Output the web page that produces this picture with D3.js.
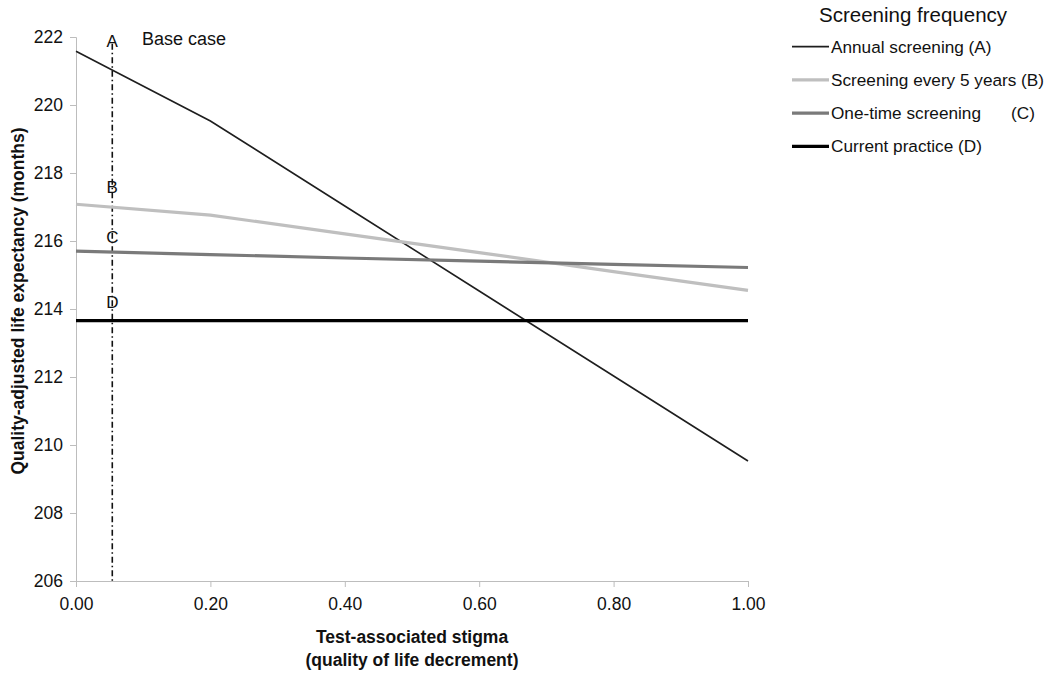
<!DOCTYPE html>
<html><head><meta charset="utf-8">
<script src="https://cdn.jsdelivr.net/npm/d3@7"></script>
<style>body{margin:0;background:#fff;}text{font-family:"Liberation Sans",Arial,sans-serif;}</style>
</head><body><svg id="c" width="1050" height="675"></svg>
<script>
const stigma = [0, 0.2, 0.4, 0.6, 0.8, 1.0];
const annual = [221.58, 219.53, 217.03, 214.53, 212.03, 209.53];
const every5 = [217.08, 216.76, 216.21, 215.66, 215.10, 214.55];
const oneTime = [215.70, 215.60, 215.50, 215.41, 215.31, 215.22];
const current = [213.66, 213.66, 213.66, 213.66, 213.66, 213.66];
const yTicks = [206, 208, 210, 212, 214, 216, 218, 220, 222];
const xTicks = [0, 0.2, 0.4, 0.6, 0.8, 1.0];
const baseCase = 0.054;
const seriesNames = ["Annual screening (A)", "Screening every 5 years (B)", "One-time screening", "Current practice (D)"];
const caseLabels = [{t:"A", v:221.7}, {t:"B", v:217.41}, {t:"C", v:215.94}, {t:"D", v:214.03}];

const svg = d3.select("#c");
const x = d3.scaleLinear().domain([0, 1]).range([76, 748]);
const y = d3.scaleLinear().domain([206, 222]).range([581, 37]);

const axisCol = "#bdbdbd";
const gx = svg.append("g").attr("transform", "translate(0,581)")
  .call(d3.axisBottom(x).tickValues(xTicks).tickFormat(d3.format(".2f")).tickSize(6).tickPadding(11));
const gy = svg.append("g").attr("transform", "translate(76,0)")
  .call(d3.axisLeft(y).tickValues(yTicks).tickSize(6).tickPadding(7));
[gx, gy].forEach(g => {
  g.select(".domain").attr("stroke", axisCol);
  g.selectAll(".tick line").attr("stroke", axisCol);
  g.selectAll(".tick text").attr("fill", "#111").style("font-size", "17.5px");
});

const series = [
  {vals: annual, col: "#1e1e1e", w: 1.6},
  {vals: every5, col: "#bfbfbf", w: 3.2},
  {vals: oneTime, col: "#7a7a7a", w: 3.2},
  {vals: current, col: "#000000", w: 3.2}
];
const line = d3.line().x((d, i) => x(stigma[i])).y(d => y(d));

// base case vertical line
svg.append("line").attr("x1", x(baseCase)).attr("x2", x(baseCase))
  .attr("y1", y(221.8)).attr("y2", y(206))
  .attr("stroke", "#111").attr("stroke-width", 1.6).attr("stroke-dasharray", "6,3,1.5,3");

series.forEach(s => {
  svg.append("path").attr("d", line(s.vals)).attr("fill", "none")
    .attr("stroke", s.col).attr("stroke-width", s.w);
});

caseLabels.forEach(c => {
  svg.append("text").attr("x", x(baseCase)).attr("y", y(c.v)).attr("text-anchor", "middle")
    .style("font-size", "17px").attr("fill", "#111").text(c.t);
});
svg.append("text").attr("x", 142).attr("y", 45).style("font-size", "18px").attr("fill", "#111").text("Base case");

// axis titles
svg.append("text").attr("transform", "translate(24,301) rotate(-90)").attr("text-anchor", "middle")
  .style("font-size", "17.5px").style("font-weight", "bold").attr("fill", "#111")
  .text("Quality-adjusted life expectancy (months)");
svg.append("text").attr("x", 412).attr("y", 643).attr("text-anchor", "middle")
  .style("font-size", "17.5px").style("font-weight", "bold").attr("fill", "#111").text("Test-associated stigma");
svg.append("text").attr("x", 412).attr("y", 666).attr("text-anchor", "middle")
  .style("font-size", "17.5px").style("font-weight", "bold").attr("fill", "#111").text("(quality of life decrement)");

// legend
svg.append("text").attr("x", 819).attr("y", 22).style("font-size", "20.5px").attr("fill", "#111").text("Screening frequency");
const ly = d3.scaleBand().domain(seriesNames).range([30, 163]);
series.forEach((s, i) => {
  const cy = ly(seriesNames[i]) + ly.bandwidth() / 2;
  svg.append("line").attr("x1", 792).attr("x2", 829).attr("y1", cy).attr("y2", cy)
    .attr("stroke", s.col).attr("stroke-width", s.w);
  svg.append("text").attr("x", 831).attr("y", cy + 6).style("font-size", "17.2px").attr("fill", "#111").text(seriesNames[i]);
});
svg.append("text").attr("x", 1011).attr("y", ly(seriesNames[2]) + ly.bandwidth() / 2 + 6)
  .style("font-size", "17.2px").attr("fill", "#111").text("(C)");
</script></body></html>
